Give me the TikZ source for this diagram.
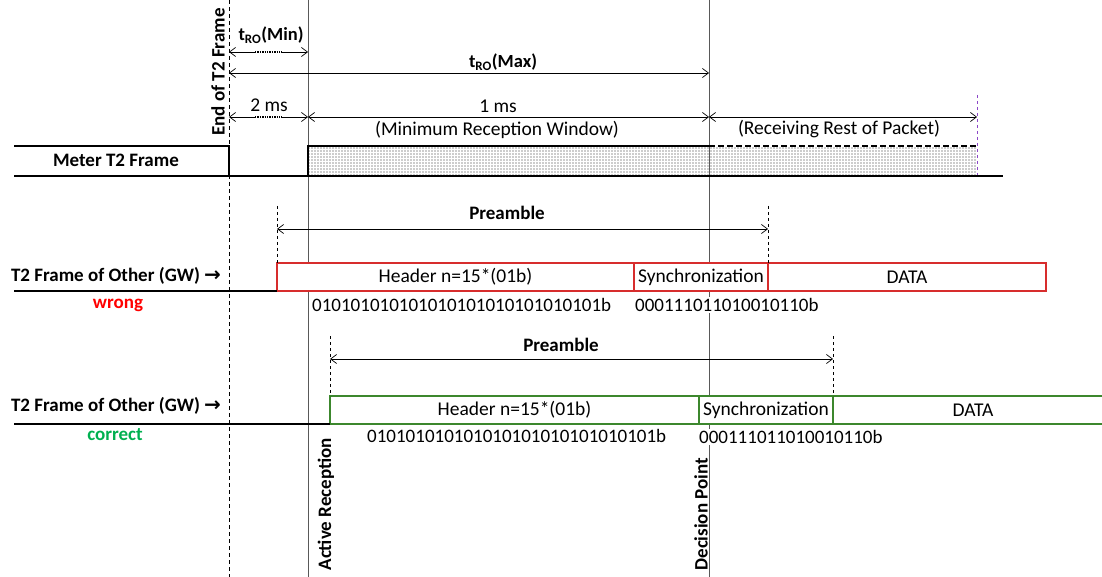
\documentclass[tikz,border=0pt]{standalone}
\usepackage{fontspec}
\setmainfont{Carlito}
\newfontfamily\arrowfont{DejaVu Sans}
\usetikzlibrary{arrows.meta,patterns,calc}

\definecolor{boxred}{RGB}{215,45,45}
\definecolor{txtred}{RGB}{255,0,0}
\definecolor{boxgreen}{RGB}{60,135,45}
\definecolor{txtgreen}{RGB}{0,176,80}
\definecolor{endpurple}{RGB}{140,70,200}

% dots of the meter window
\pgfdeclarepatternformonly{meterdots}{\pgfqpoint{-1pt}{-1pt}}{\pgfqpoint{1pt}{1pt}}{\pgfqpoint{3pt}{3pt}}{%
  \pgfpathcircle{\pgfqpoint{0pt}{0pt}}{0.6pt}\pgfusepath{fill}}

\newcommand{\gwarrow}{{\arrowfont\fontsize{20}{22}\selectfont →}}

\tikzset{
  base/.style={line width=1.6pt},
  guide/.style={line width=0.8pt, black!65},
  endline/.style={line width=0.8pt, dash pattern=on 4pt off 3pt},
  dim/.style={{Straight Barb[length=6pt,width=9pt]}-{Straight Barb[length=6pt,width=9pt]}, line width=0.7pt},
  dimgap/.style={white, line width=2pt, postaction={draw=black, densely dotted, line width=1.4pt}},
  lbl/.style={font=\fontsize{19.5}{22}\selectfont},
  blbl/.style={font=\fontsize{19}{22}\selectfont\bfseries},
  bits/.style={font=\fontsize{19}{22}\selectfont, fill=white, inner sep=1pt, anchor=west},
  fieldbox/.style={draw, line width=1.4pt, fill=white, minimum height=28pt, inner sep=0pt,
    outer sep=0pt, anchor=north west, font=\fontsize{19.5}{22}\selectfont},
}

\begin{document}
\begin{tikzpicture}[x=1pt, y=-1pt]
  \useasboundingbox (0,0) rectangle (1102,577);

  % time marks
  \coordinate (Etop) at (229,0);
  \coordinate (Ebot) at (229,577);
  \coordinate (Atop) at (308,0);
  \coordinate (Abot) at (308,577);
  \coordinate (Dtop) at (709,0);
  \coordinate (Dbot) at (709,577);
  \coordinate (Rtop) at (977,95);
  \coordinate (Rbot) at (977,176);

  % vertical lines
  \draw[endline] (Etop) -- (Ebot);
  \draw[guide] (Atop) -- (Abot);
  \draw[guide] (Dtop) -- (Dbot);

  % meter frame
  \fill[pattern=meterdots, pattern color=black!85] (308,146) rectangle (977,176);
  \draw[base] (14,146) -- (229,146) -- (229,176);
  \draw[line width=1.2pt] (308,176) -- (308,146) -- (709,146);
  \draw[line width=1.4pt, dash pattern=on 6pt off 3pt] (709,146) -- (977,146);
  \draw[endpurple, dashed, line width=1pt] (Rtop) -- (Rbot);
  \draw[base] (14,176) -- (1003,176);
  \node[blbl] (meter) at (116,160) {Meter T2 Frame};
  \node[blbl, rotate=90] (endlbl) at (218,72) {End of T2 Frame};

  % timing arrows
  \coordinate (minL) at (229,52);
  \coordinate (minR) at (308,52);
  \draw[dim] (minL) -- (minR);
  \draw[dimgap] ($(minL)!.33!(minR)$) -- ($(minL)!.67!(minR)$);
  \node[blbl, font=\fontsize{18.5}{22}\selectfont\bfseries] (tmin) at (271,35) {t\textsubscript{RO}(Min)};

  \coordinate (maxL) at (229,73);
  \coordinate (maxR) at (709,73);
  \draw[dim] (maxL) -- (maxR);
  \node[blbl, font=\fontsize{18.5}{22}\selectfont\bfseries] (tmax) at (503,62) {t\textsubscript{RO}(Max)};

  \coordinate (twoL) at (229,117);
  \coordinate (twoR) at (308,117);
  \coordinate (oneR) at (709,117);
  \coordinate (restR) at (977,117);
  \draw[dim] (twoL) -- (twoR);
  \draw[dimgap] ($(twoL)!.33!(twoR)$) -- ($(twoL)!.67!(twoR)$);
  \draw[dim] (twoR) -- (oneR);
  \draw[dim] (oneR) -- (restR);
  \node[lbl] (two) at (269,105) {2 ms};
  \node[lbl] (one) at (498,106) {1 ms};
  \node[lbl] (minwin) at (497,130) {(Minimum Reception Window)};
  \node[lbl] (rest) at (839,129) {(Receiving Rest of Packet)};

  % other frame, wrong
  \node[fieldbox, draw=boxred, minimum width=357pt] (hdrW) at (277,263) {Header n=15*(01b)};
  \node[fieldbox, draw=boxred, minimum width=134pt] (syncW) at (hdrW.north east) {Synchronization};
  \node[fieldbox, draw=boxred, minimum width=278pt] (dataW) at (syncW.north east) {DATA};
  \coordinate (lineW) at (14,291);
  \draw[base] (lineW) -- (hdrW.south west);
  \coordinate (pwL) at (277,206);
  \coordinate (pwR) at (768,206);
  \coordinate (paL) at (277,229);
  \coordinate (paR) at (768,229);
  \draw[dashed] (pwL) -- (hdrW.north west);
  \draw[dashed] (pwR) -- (syncW.north east);
  \draw[dim] (paL) -- (paR);
  \node[blbl] (preW) at (507,213) {Preamble};
  \node[blbl] (gwW) at (116,276) {T2 Frame of Other (GW) \gwarrow};
  \node[blbl, text=txtred] (wrong) at (118,305) {wrong};
  \node[bits] (bitsHW) at (311,305) {010101010101010101010101010101b};
  \node[bits] (bitsSW) at (634,305) {000111011010010110b};

  % other frame, correct
  \node[fieldbox, draw=boxgreen, minimum width=369pt] (hdrC) at (330,396) {Header n=15*(01b)};
  \node[fieldbox, draw=boxgreen, minimum width=134pt] (syncC) at (hdrC.north east) {Synchronization};
  \node[fieldbox, draw=boxgreen, minimum width=280pt] (dataC) at (syncC.north east) {DATA};
  \coordinate (lineC) at (14,424);
  \draw[base] (lineC) -- (hdrC.south west);
  \coordinate (pcL) at (330,336);
  \coordinate (pcR) at (833,336);
  \coordinate (pbL) at (330,359);
  \coordinate (pbR) at (833,359);
  \draw[dashed] (pcL) -- (hdrC.north west);
  \draw[dashed] (pcR) -- (syncC.north east);
  \draw[dim] (pbL) -- (pbR);
  \node[blbl] (preC) at (561,345) {Preamble};
  \node[blbl] (gwC) at (116,406) {T2 Frame of Other (GW) \gwarrow};
  \node[blbl, text=txtgreen] (correct) at (115,435) {correct};
  \node[bits] (bitsHC) at (366,436) {010101010101010101010101010101b};
  \node[bits] (bitsSC) at (698,437) {000111011010010110b};

  % marks at the bottom
  \node[blbl, rotate=90, anchor=west] (active) at (326,574) {Active Reception};
  \node[blbl, rotate=90, anchor=west] (decide) at (701,574) {Decision Point};
\end{tikzpicture}
\end{document}
